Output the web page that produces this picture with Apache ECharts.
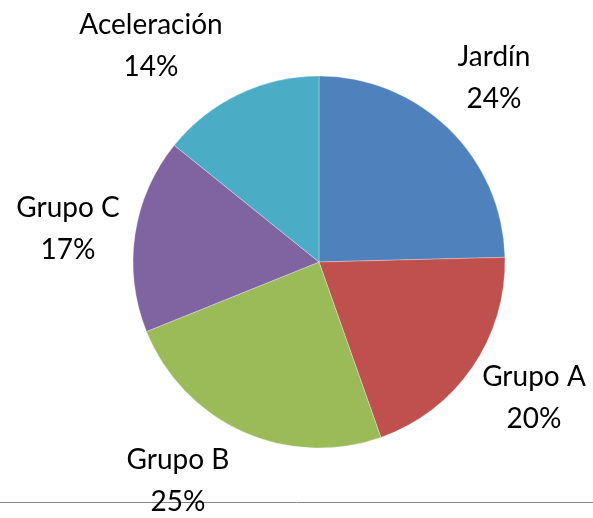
<!DOCTYPE html>
<html>
<head>
<meta charset="utf-8">
<script src="https://cdn.jsdelivr.net/npm/echarts@6/dist/echarts.min.js"></script>
<style>
  html, body { margin: 0; padding: 0; background: #fff; }
  #piechart { width: 593px; height: 518px; }
</style>
</head>
<body>
<div id="piechart"></div>
<script>
var categories = ['Jardín', 'Grupo A', 'Grupo B', 'Grupo C', 'Aceleración'];
var values = [24.6, 20.0, 24.3, 16.9, 14.2];
var percentLabels = ['24%', '20%', '25%', '17%', '14%'];
var colors = ['#4F81BD', '#C0504D', '#9BBB59', '#8064A2', '#4BACC6'];

// where each label block sits (centre), like Excel's best fit
var labelSpots = [[494, 78], [534, 398], [178, 481], [68, 229], [151, 46]];

var piechart = echarts.init(document.getElementById('piechart'));

var pieData = categories.map(function (name, i) {
    return { name: name, value: values[i] };
});

option = {
    backgroundColor: '#fff',
    animation: false,
    color: colors,
    graphic: [
        {
            type: 'line',
            shape: { x1: 0, y1: 502.5, x2: 593, y2: 502.5 },
            style: { stroke: '#858585', lineWidth: 1 },
            z: 0
        }
    ],
    series: [
        {
            type: 'pie',
            center: [319, 262],
            radius: 186,
            startAngle: 90,
            clockwise: true,
            data: pieData,
            itemStyle: {
                borderColor: 'rgba(255,255,255,0.6)',
                borderWidth: 0.5
            },
            labelLine: { show: false },
            label: {
                show: true,
                position: 'outside',
                overflow: 'none',
                edgeDistance: 0,
                formatter: function (p) {
                    return p.name + '\n' + percentLabels[p.dataIndex];
                },
                fontFamily: 'Lato',
                fontSize: 28,
                lineHeight: 42,
                color: '#000',
                align: 'center'
            },
            labelLayout: function (params) {
                var s = labelSpots[params.dataIndex];
                return {
                    x: s[0],
                    y: s[1],
                    align: 'center',
                    verticalAlign: 'middle'
                };
            },
            emphasis: { disabled: true }
        }
    ]
};

piechart.setOption(option);
</script>
</body>
</html>
